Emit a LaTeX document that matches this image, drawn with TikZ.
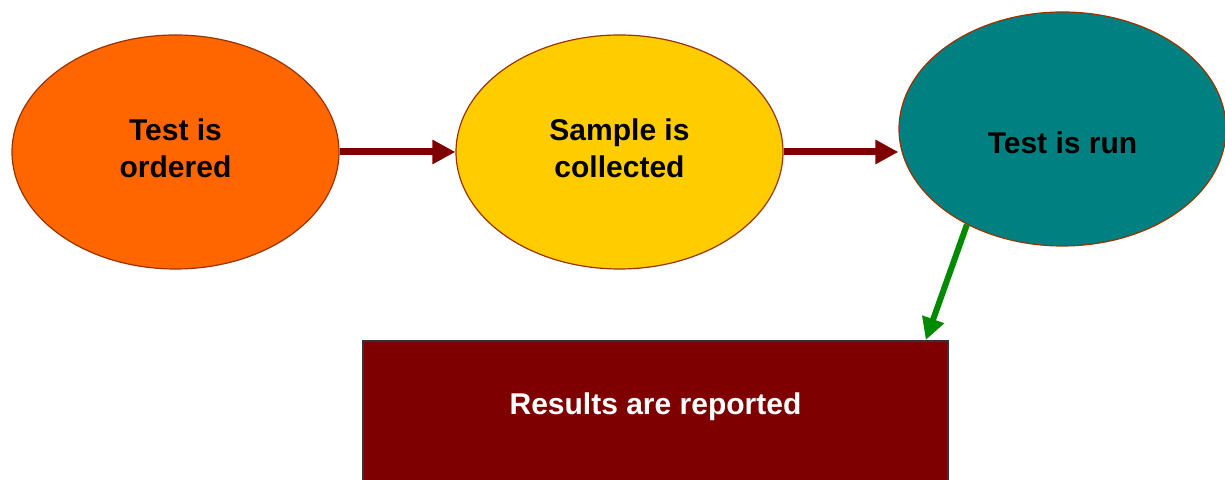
\documentclass[tikz,border=0pt]{standalone}
\usepackage{fontspec}
\setmainfont{Liberation Sans}
\usetikzlibrary{shapes.geometric, arrows.meta, positioning}
\definecolor{stepOrange}{HTML}{FF6600}
\definecolor{stepYellow}{HTML}{FFCC00}
\definecolor{stepTeal}{HTML}{008080}
\definecolor{stepMaroon}{HTML}{7F0000}
\definecolor{stepBorder}{HTML}{993300}
\definecolor{stepGreen}{HTML}{008A00}
\begin{document}
\begin{tikzpicture}[x=0.5pt, y=0.5pt]
	\tikzset{
		step_base/.style={ellipse, draw=stepBorder, line width=0.6pt, minimum width=163.5pt, minimum height=117pt},
		step_text/.style={align=center, inner sep=0pt, font=\fontsize{15}{18.5}\selectfont\bfseries},
		flow_arrow/.style={draw=stepMaroon, line width=3.5pt, -{Triangle[width=11.5pt, length=11.5pt]}},
		done_arrow/.style={draw=stepGreen, line width=3pt, -{Triangle[width=11pt, length=11pt]}},
		result_box/.style={rectangle, draw=black!80, line width=0.8pt, fill=stepMaroon, minimum width=292.5pt, minimum height=80pt}, % runs off the bottom edge
		result_text/.style={text=white, font=\fontsize{15}{18}\selectfont\bfseries}
	}
	\useasboundingbox (0,0) rectangle (1225,480);
	% the three steps, text a little off centre as in the slide
	\foreach \name/\x/\y/\col/\dy/\txt in {e1/175.5/328/stepOrange/2/{Test is\\ordered}, e2/619.5/328/stepYellow/2/{Sample is\\collected}, e3/1062.5/351/stepTeal/-7/{Test is run}} {
		\node[step_base, fill=\col] (\name) at (\x,\y) {};
		\node[step_text] (\name t) at ([yshift=\dy pt]\name.center) {\txt};
	}
	\node[result_box, anchor=north] (res) at (655.5,140) {};
	\node[result_text] (restext) at ([yshift=-33.5pt]res.north) {Results are reported};
	\draw[flow_arrow] (e1) -- (e2);
	\draw[flow_arrow] (e2.east) -- (e2.east -| e3.west);
	\draw[done_arrow] (e3.225) -- ([xshift=-11.5pt]res.north east);
\end{tikzpicture}
\end{document}
